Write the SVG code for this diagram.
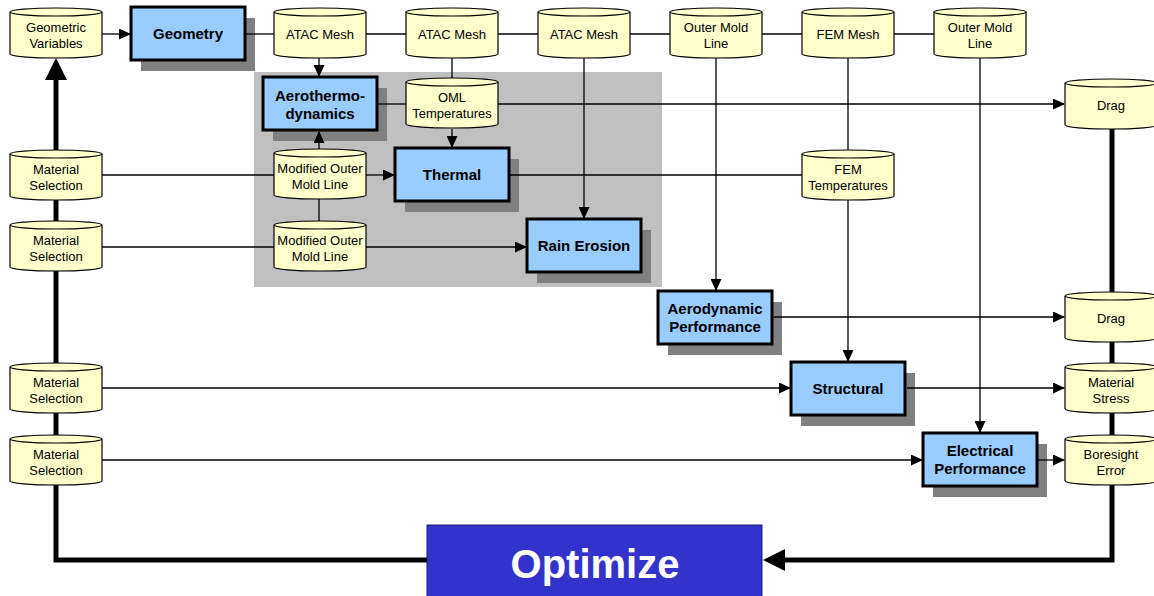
<svg xmlns="http://www.w3.org/2000/svg" width="1154" height="596" viewBox="0 0 1154 596">
  <style>
    .cyl-t { font-family: "Liberation Sans", Arial, sans-serif; font-size: 13px; fill: #000; text-anchor: middle; }
    .box-t { font-family: "Liberation Sans", Arial, sans-serif; font-size: 15px; font-weight: bold; fill: #000; text-anchor: middle; }
    .box { fill: #99ccff; stroke: #000; stroke-width: 3; }
    .shadow { fill: #808080; }
    .wire { fill: none; stroke: #000; stroke-width: 1.3; }
    .arrow { fill: none; stroke: #000; stroke-width: 1.3; marker-end: url(#head); }
    .loop { fill: none; stroke: #000; stroke-width: 5; stroke-linejoin: miter; }
    .loop-end { fill: none; stroke: #000; stroke-width: 5; stroke-linejoin: miter; marker-end: url(#bighead); }
  </style>
  <defs>
    <marker id="head" markerUnits="userSpaceOnUse" markerWidth="12" markerHeight="11" refX="11" refY="5.5" orient="auto">
      <path d="M0,0 L12,5.5 L0,11 z" fill="#000"/>
    </marker>
    <marker id="bighead" markerUnits="userSpaceOnUse" markerWidth="22" markerHeight="22" refX="0" refY="11" orient="auto">
      <path d="M0,0 L22,11 L0,22 z" fill="#000"/>
    </marker>
    <!-- data store drum, 92 x 50 -->
    <g id="cyl">
      <path d="M0,4 A46,4 0 0 1 92,4 L92,46 A46,4 0 0 1 0,46 Z" fill="#ffffcc" stroke="#000" stroke-width="1.2"/>
      <path d="M0,4 A46,4 0 0 0 92,4" fill="none" stroke="#000" stroke-width="1.2"/>
    </g>
  </defs>

  <rect width="1154" height="596" fill="#fff"/>

  <!-- thermal analysis panel -->
  <rect id="thermal-panel" x="254" y="72" width="408" height="215" fill="#c0c0c0"/>

  <!-- analysis blocks -->
  <g id="geometry">
    <rect class="shadow" x="141" y="18" width="114" height="53"/>
    <rect class="box" x="131" y="7" width="114" height="53"/>
    <text class="box-t" x="188" y="38.5">Geometry</text>
  </g>
  <g id="aerothermodynamics">
    <rect class="shadow" x="273" y="88" width="114" height="53"/>
    <rect class="box" x="263" y="77" width="114" height="53"/>
    <text class="box-t" x="320" y="101">Aerothermo-</text>
    <text class="box-t" x="320" y="118.5">dynamics</text>
  </g>
  <g id="thermal">
    <rect class="shadow" x="405" y="159" width="114" height="53"/>
    <rect class="box" x="395" y="148" width="114" height="53"/>
    <text class="box-t" x="452" y="180">Thermal</text>
  </g>
  <g id="rain-erosion">
    <rect class="shadow" x="537" y="230" width="114" height="53"/>
    <rect class="box" x="527" y="219" width="114" height="53"/>
    <text class="box-t" x="584" y="251">Rain Erosion</text>
  </g>
  <g id="aerodynamic-performance">
    <rect class="shadow" x="668" y="302" width="114" height="53"/>
    <rect class="box" x="658" y="291" width="114" height="53"/>
    <text class="box-t" x="715" y="314">Aerodynamic</text>
    <text class="box-t" x="715" y="332">Performance</text>
  </g>
  <g id="structural">
    <rect class="shadow" x="801" y="373" width="114" height="53"/>
    <rect class="box" x="791" y="362" width="114" height="53"/>
    <text class="box-t" x="848" y="394">Structural</text>
  </g>
  <g id="electrical-performance">
    <rect class="shadow" x="933" y="444" width="114" height="53"/>
    <rect class="box" x="923" y="433" width="114" height="53"/>
    <text class="box-t" x="980" y="456">Electrical</text>
    <text class="box-t" x="980" y="474">Performance</text>
  </g>

  <g id="optimize">
    <rect x="427" y="525" width="335" height="75" fill="#3333cc" stroke="#1a1a80" stroke-width="1"/>
    <text x="595" y="578" font-family="Liberation Sans, Arial, sans-serif" font-size="40" font-weight="bold" fill="#fff" text-anchor="middle">Optimize</text>
  </g>

  <!-- data stores -->
  <g id="geometric-variables">
    <use href="#cyl" x="10" y="8"/>
    <text class="cyl-t" x="56" y="31.5">Geometric</text>
    <text class="cyl-t" x="56" y="48">Variables</text>
  </g>
  <g id="atac-mesh-1">
    <use href="#cyl" x="274" y="8"/>
    <text class="cyl-t" x="320" y="38.5">ATAC Mesh</text>
  </g>
  <g id="atac-mesh-2">
    <use href="#cyl" x="406" y="8"/>
    <text class="cyl-t" x="452" y="38.5">ATAC Mesh</text>
  </g>
  <g id="atac-mesh-3">
    <use href="#cyl" x="538" y="8"/>
    <text class="cyl-t" x="584" y="38.5">ATAC Mesh</text>
  </g>
  <g id="outer-mold-line-1">
    <use href="#cyl" x="670" y="8"/>
    <text class="cyl-t" x="716" y="31.5">Outer Mold</text>
    <text class="cyl-t" x="716" y="48">Line</text>
  </g>
  <g id="fem-mesh">
    <use href="#cyl" x="802" y="8"/>
    <text class="cyl-t" x="848" y="38.5">FEM Mesh</text>
  </g>
  <g id="outer-mold-line-2">
    <use href="#cyl" x="934" y="8"/>
    <text class="cyl-t" x="980" y="31.5">Outer Mold</text>
    <text class="cyl-t" x="980" y="48">Line</text>
  </g>
  <g id="oml-temperatures">
    <use href="#cyl" x="406" y="78"/>
    <text class="cyl-t" x="452" y="101.5">OML</text>
    <text class="cyl-t" x="452" y="118">Temperatures</text>
  </g>
  <g id="modified-oml-1">
    <use href="#cyl" x="274" y="149"/>
    <text class="cyl-t" x="320" y="172.5">Modified Outer</text>
    <text class="cyl-t" x="320" y="189">Mold Line</text>
  </g>
  <g id="modified-oml-2">
    <use href="#cyl" x="274" y="221"/>
    <text class="cyl-t" x="320" y="244.5">Modified Outer</text>
    <text class="cyl-t" x="320" y="261">Mold Line</text>
  </g>
  <g id="fem-temperatures">
    <use href="#cyl" x="802" y="150"/>
    <text class="cyl-t" x="848" y="173.5">FEM</text>
    <text class="cyl-t" x="848" y="190">Temperatures</text>
  </g>
  <g id="material-selection-1">
    <use href="#cyl" x="10" y="150"/>
    <text class="cyl-t" x="56" y="173.5">Material</text>
    <text class="cyl-t" x="56" y="190">Selection</text>
  </g>
  <g id="material-selection-2">
    <use href="#cyl" x="10" y="221"/>
    <text class="cyl-t" x="56" y="244.5">Material</text>
    <text class="cyl-t" x="56" y="261">Selection</text>
  </g>
  <g id="material-selection-3">
    <use href="#cyl" x="10" y="363"/>
    <text class="cyl-t" x="56" y="386.5">Material</text>
    <text class="cyl-t" x="56" y="403">Selection</text>
  </g>
  <g id="material-selection-4">
    <use href="#cyl" x="10" y="435"/>
    <text class="cyl-t" x="56" y="458.5">Material</text>
    <text class="cyl-t" x="56" y="475">Selection</text>
  </g>
  <g id="drag-1">
    <use href="#cyl" x="1065" y="79"/>
    <text class="cyl-t" x="1111" y="110">Drag</text>
  </g>
  <g id="drag-2">
    <use href="#cyl" x="1065" y="292"/>
    <text class="cyl-t" x="1111" y="323">Drag</text>
  </g>
  <g id="material-stress">
    <use href="#cyl" x="1065" y="363"/>
    <text class="cyl-t" x="1111" y="386.5">Material</text>
    <text class="cyl-t" x="1111" y="403">Stress</text>
  </g>
  <g id="boresight-error">
    <use href="#cyl" x="1065" y="435"/>
    <text class="cyl-t" x="1111" y="458.5">Boresight</text>
    <text class="cyl-t" x="1111" y="475">Error</text>
  </g>

  <!-- connectors run over the drop shadows, between the shapes -->
  <g id="connectors">
    <!-- optimisation loop, left side back to Geometric Variables -->
    <path class="loop" d="M427,560 H56 V485"/>
    <line class="loop" x1="56" y1="435" x2="56" y2="413"/>
    <line class="loop" x1="56" y1="363" x2="56" y2="271"/>
    <line class="loop" x1="56" y1="221" x2="56" y2="200"/>
    <line class="loop-end" x1="56" y1="150" x2="56" y2="80"/>
    <!-- optimisation loop, right side into Optimize -->
    <line class="loop" x1="1112" y1="129" x2="1112" y2="292"/>
    <line class="loop" x1="1112" y1="342" x2="1112" y2="363"/>
    <line class="loop" x1="1112" y1="413" x2="1112" y2="435"/>
    <path class="loop-end" d="M1112,485 V560 H785"/>

    <!-- top chain -->
    <line class="arrow" x1="102" y1="34" x2="130" y2="34"/>
    <line class="wire" x1="246" y1="34" x2="274" y2="34"/>
    <line class="wire" x1="366" y1="34" x2="406" y2="34"/>
    <line class="wire" x1="498" y1="34" x2="538" y2="34"/>
    <line class="wire" x1="630" y1="34" x2="670" y2="34"/>
    <line class="wire" x1="762" y1="34" x2="802" y2="34"/>
    <line class="wire" x1="894" y1="34" x2="934" y2="34"/>

    <!-- drops from the top row -->
    <line class="arrow" x1="319" y1="58" x2="319" y2="76"/>
    <line class="wire" x1="452" y1="58" x2="452" y2="78"/>
    <line class="arrow" x1="584" y1="58" x2="584" y2="218"/>
    <line class="arrow" x1="716" y1="58" x2="716" y2="290"/>
    <line class="wire" x1="848" y1="58" x2="848" y2="150"/>
    <line class="arrow" x1="848" y1="200" x2="848" y2="361"/>
    <line class="arrow" x1="980" y1="58" x2="980" y2="432"/>

    <!-- thermal panel internals -->
    <line class="wire" x1="378" y1="104" x2="406" y2="104"/>
    <line class="arrow" x1="498" y1="104" x2="1064" y2="104"/>
    <line class="arrow" x1="452" y1="129" x2="452" y2="147"/>
    <line class="arrow" x1="319" y1="149" x2="319" y2="132"/>
    <line class="wire" x1="319" y1="199" x2="319" y2="221"/>
    <line class="wire" x1="102" y1="175" x2="274" y2="175"/>
    <line class="arrow" x1="366" y1="175" x2="394" y2="175"/>
    <line class="wire" x1="510" y1="175" x2="802" y2="175"/>
    <line class="wire" x1="102" y1="247" x2="274" y2="247"/>
    <line class="arrow" x1="366" y1="247" x2="526" y2="247"/>

    <!-- discipline outputs -->
    <line class="arrow" x1="774" y1="317" x2="1064" y2="317"/>
    <line class="arrow" x1="102" y1="388" x2="790" y2="388"/>
    <line class="arrow" x1="907" y1="388" x2="1064" y2="388"/>
    <line class="arrow" x1="102" y1="460" x2="922" y2="460"/>
    <line class="arrow" x1="1038" y1="460" x2="1064" y2="460"/>
  </g>
</svg>
